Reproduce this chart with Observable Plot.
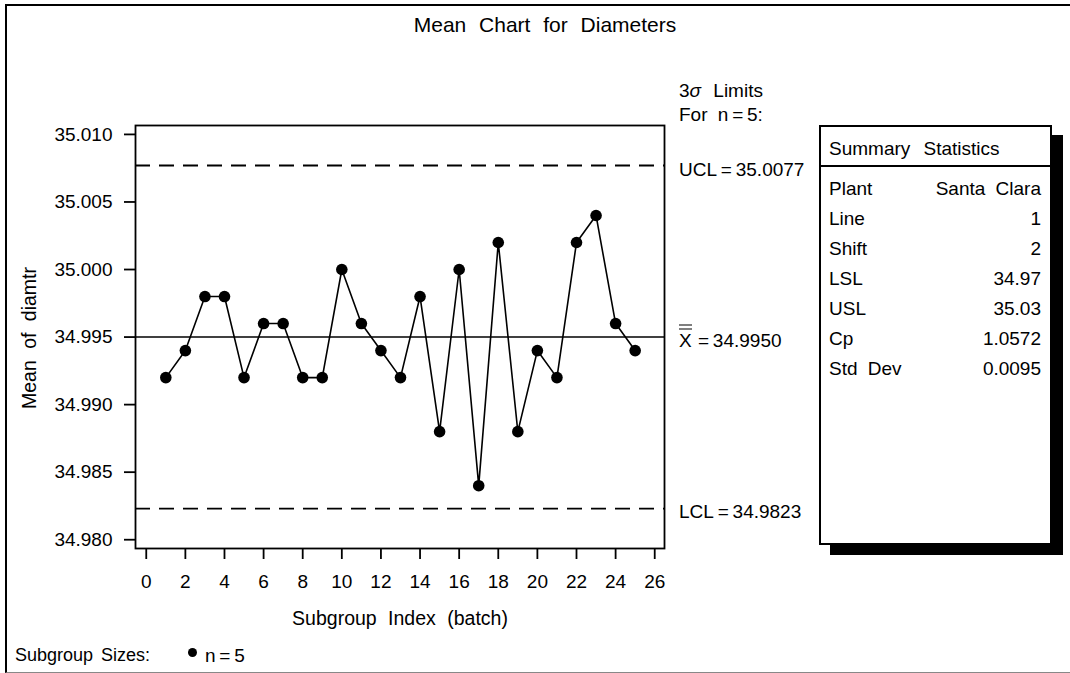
<!DOCTYPE html>
<html>
<head>
<meta charset="utf-8">
<script src="https://cdn.jsdelivr.net/npm/d3@7"></script>
<script src="https://cdn.jsdelivr.net/npm/@observablehq/plot@0.6"></script>
<style>
html, body { margin: 0; padding: 0; background: #fff; }
#wrap { position: relative; width: 1070px; height: 673px; overflow: hidden;
  font-family: "Liberation Sans", Arial, Helvetica, sans-serif; color: #000; }
#border { position: absolute; left: 5px; top: 4px; width: 1090px; height: 666px;
  border-left: 2px solid #000; border-top: 2px solid #000; border-bottom: 1px solid #888; }
.t { position: absolute; white-space: pre; font-size: 19px; line-height: 1; word-spacing: 5px; }
.xb { position: relative; display: inline-block; }
.xb .b { position: absolute; left: -0.5px; right: -0.5px; height: 0; border-top: 1.5px solid #000; }
#box { position: absolute; left: 819px; top: 125px; width: 229px; height: 416px;
  border: 2px solid #000; background: #fff; box-shadow: 11px 10px 0 #000; }
#boxline { position: absolute; left: 0; right: 0; top: 38px; border-top: 2px solid #000; }
#chart { position: absolute; left: 0; top: 0; }
</style>
</head>
<body>
<div id="wrap">
  <div id="border"></div>
  <div id="chart"></div>
</div>
<script>
// ---- data ----
const subgroups = [1,2,3,4,5,6,7,8,9,10,11,12,13,14,15,16,17,18,19,20,21,22,23,24,25];
const means = [34.992,34.994,34.998,34.998,34.992,34.996,34.996,34.992,34.992,35.000,
               34.996,34.994,34.992,34.998,34.988,35.000,34.984,35.002,34.988,34.994,
               34.992,35.002,35.004,34.996,34.994];
const xTicks = [0,2,4,6,8,10,12,14,16,18,20,22,24,26];
const yTicks = [34.980,34.985,34.990,34.995,35.000,35.005,35.010];
const centerLine = 34.9950;
const ucl = 35.0077;
const lcl = 34.9823;
const statLabels = ["Plant","Line","Shift","LSL","USL","Cp","Std Dev"];
const statValues = ["Santa Clara","1","2","34.97","35.03","1.0572","0.0095"];

const data = subgroups.map((s, i) => ({s, m: means[i]}));

const chart = Plot.plot({
  width: 1070,
  height: 673,
  marginLeft: 135,
  marginRight: 406,
  marginTop: 125,
  marginBottom: 125,
  style: {fontFamily: '"Liberation Sans", Arial, sans-serif', fontSize: "19px", color: "#000", background: "transparent", overflow: "visible"},
  x: {domain: [-0.55, 26.5]},
  y: {domain: [34.97935, 35.01066]},
  marks: [
    Plot.ruleY([ucl, lcl], {stroke: "#000", strokeWidth: 1.8, strokeDasharray: "15,9"}),
    Plot.ruleY([centerLine], {stroke: "#000", strokeWidth: 1.6}),
    Plot.line(data, {x: "s", y: "m", stroke: "#000", strokeWidth: 1.6}),
    Plot.dot(data, {x: "s", y: "m", r: 5.8, fill: "#000", stroke: "none"}),
    Plot.axisX({ticks: xTicks, tickSize: 11, tickPadding: 15, strokeWidth: 1.8, label: null, fill: "#000"}),
    Plot.axisY({ticks: yTicks, tickFormat: d3.format(".3f"), tickSize: 11, tickPadding: 12, strokeWidth: 1.8, label: null, fill: "#000"}),
    Plot.frame({stroke: "#000", strokeWidth: 1.8})
  ]
});
document.getElementById("chart").appendChild(chart);

const wrap = document.getElementById("wrap");
function place(html, x, y, anchor = "start", extra = "") {
  const d = document.createElement("div");
  d.className = "t";
  d.innerHTML = html;
  const tx = anchor === "middle" ? "-50%" : anchor === "end" ? "-100%" : "0";
  d.style.left = x + "px";
  d.style.top = y + "px";
  d.style.transform = `translate(${tx},-50%)`;
  if (extra) d.style.cssText += extra;
  wrap.appendChild(d);
  return d;
}

// title & axis titles
place("Mean Chart for Diameters", 545, 24, "middle", "font-size:21px;word-spacing:7px;");
place("Subgroup Index (batch)", 400, 619, "middle", "font-size:19.5px;word-spacing:6px;");
const yl = place("Mean of diamtr", 30, 338, "start", "font-size:19.5px;word-spacing:6px;");
yl.style.transform = "translate(-50%,-50%) rotate(-90deg)";

// control limit annotations positioned via the y scale
const ys = chart.scale("y");
const xr = 679;
place("3<i>σ</i> Limits", xr, 90, "start", "word-spacing:7px;");
place("For n\u2009=\u20095:", xr, 114);
place("UCL\u2009=\u200935.0077", xr, ys.apply(ucl) + 4);
place('<span class="xb">X<span class="b" style="top:-2px"></span><span class="b" style="top:-5.5px"></span></span> =\u200934.9950', xr, ys.apply(centerLine) + 3, "start", "word-spacing:1px;");
place("LCL\u2009=\u200934.9823", xr, ys.apply(lcl) + 3);

// summary statistics box
const box = document.createElement("div");
box.id = "box";
box.innerHTML = '<div id="boxline"></div>';
wrap.appendChild(box);
place("Summary Statistics", 829, 148, "start", "word-spacing:8px;");
statLabels.forEach((lab, i) => {
  const yc = 188 + i * 30;
  place(lab, 829, yc);
  place(statValues[i], 1041, yc, "end");
});

// subgroup size legend
place("Subgroup Sizes:", 15, 655, "start", "font-size:18px;word-spacing:3px;");
const dot = document.createElement("div");
dot.style.cssText = "position:absolute;left:188px;top:648px;width:9px;height:9px;border-radius:50%;background:#000;";
wrap.appendChild(dot);
place("n\u2009=\u20095", 205, 655);
</script>
</body>
</html>
